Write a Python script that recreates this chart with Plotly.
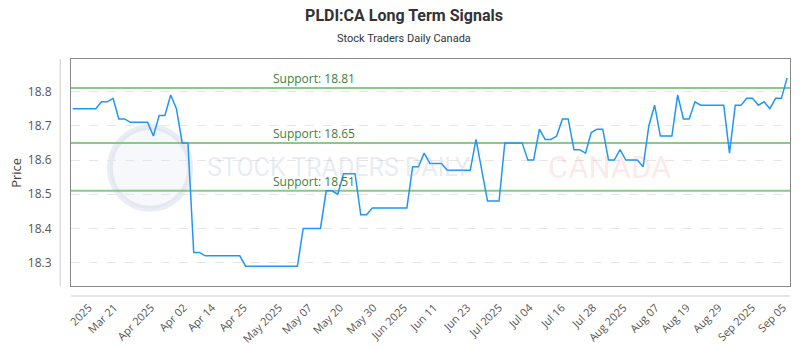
import plotly.graph_objects as go

# ---- data ----
prices = [
    18.75, 18.75, 18.75, 18.75, 18.75, 18.77, 18.77, 18.78, 18.72, 18.72,
    18.71, 18.71, 18.71, 18.71, 18.67, 18.73, 18.73, 18.79, 18.75, 18.65,
    18.65, 18.33, 18.33, 18.32, 18.32, 18.32, 18.32, 18.32, 18.32, 18.32,
    18.29, 18.29, 18.29, 18.29, 18.29, 18.29, 18.29, 18.29, 18.29, 18.29,
    18.40, 18.40, 18.40, 18.40, 18.51, 18.51, 18.50, 18.56, 18.56, 18.56,
    18.44, 18.44, 18.46, 18.46, 18.46, 18.46, 18.46, 18.46, 18.46, 18.58,
    18.58, 18.62, 18.59, 18.59, 18.59, 18.57, 18.57, 18.57, 18.57, 18.57,
    18.66, 18.57, 18.48, 18.48, 18.48, 18.65, 18.65, 18.65, 18.65, 18.60,
    18.60, 18.69, 18.66, 18.66, 18.67, 18.72, 18.72, 18.63, 18.63, 18.62,
    18.68, 18.69, 18.69, 18.60, 18.60, 18.63, 18.60, 18.60, 18.60, 18.58,
    18.70, 18.76, 18.67, 18.67, 18.67, 18.79, 18.72, 18.72, 18.77, 18.76,
    18.76, 18.76, 18.76, 18.76, 18.62, 18.76, 18.76, 18.78, 18.78, 18.76,
    18.77, 18.75, 18.78, 18.78, 18.84,
]
tick_labels = [
    "2025", "Mar 21", "Apr 2025", "Apr 02", "Apr 14", "Apr 25", "May 2025",
    "May 07", "May 20", "May 30", "Jun 2025", "Jun 11", "Jun 23", "Jul 2025",
    "Jul 04", "Jul 16", "Jul 28", "Aug 2025", "Aug 07", "Aug 19", "Aug 29",
    "Sep 2025", "Sep 05",
]
tick_index = [
    2.8, 7.2, 13.6, 19.3, 24.2, 29.7, 35.8, 41.0, 46.4, 52.2, 57.5, 62.7,
    68.5, 74.0, 79.3, 84.9, 90.3, 95.6, 101.2, 106.6, 112.1, 117.9, 123.3,
]
support_levels = [18.81, 18.65, 18.51]
support_labels = ["Support: 18.81", "Support: 18.65", "Support: 18.51"]

x = list(range(len(prices)))

fig = go.Figure()

# support lines
for lvl in support_levels:
    fig.add_trace(go.Scatter(
        x=[-0.3, len(prices) - 0.5], y=[lvl, lvl], mode="lines",
        line=dict(color="rgba(120,190,120,0.85)", width=2),
        hoverinfo="skip", showlegend=False,
    ))

fig.add_trace(go.Scatter(
    x=x, y=prices, mode="lines",
    line=dict(color="#2196f3", width=1.5),
    showlegend=False,
))

annotations = []
for lvl, lab in zip(support_levels, support_labels):
    annotations.append(dict(
        x=34.5, y=lvl, text=lab, showarrow=False, xanchor="left",
        yanchor="bottom", yshift=-1,
        font=dict(family="Open Sans, Roboto, sans-serif", size=12, color="#3d7f3d"),
    ))

# watermark
annotations.append(dict(
    xref="paper", yref="paper", x=0.187, y=0.52, text="STOCK TRADERS DAILY",
    showarrow=False, xanchor="left", yanchor="middle",
    font=dict(family="Roboto, sans-serif", size=25,
              color="rgba(170,185,210,0.28)"),
))
annotations.append(dict(
    xref="paper", yref="paper", x=0.66, y=0.52, text="CANADA",
    showarrow=False, xanchor="left", yanchor="middle",
    font=dict(family="Roboto, sans-serif", size=31,
              color="rgba(240,120,120,0.18)"),
))
annotations.append(dict(
    xref="paper", yref="paper", x=0.4634, y=1.0, yshift=21,
    text="Stock Traders Daily Canada", showarrow=False,
    xanchor="center", yanchor="middle",
    font=dict(family="Roboto, sans-serif", size=11, color="#333333"),
))
# y-axis title
annotations.append(dict(
    xref="paper", yref="paper", x=-0.0774, y=0.5, text="Price",
    showarrow=False, textangle=-90, xanchor="center", yanchor="middle",
    font=dict(family="Open Sans, sans-serif", size=13, color="#444444"),
))

fig.add_shape(
    type="circle", xref="paper", yref="paper",
    x0=0.054, x1=0.166, y0=0.34, y1=0.70,
    line=dict(color="rgba(170,185,210,0.25)", width=6),
    fillcolor="rgba(200,210,230,0.15)", layer="below",
)

# decorative outer axis lines
fig.add_shape(type="line", xref="paper", yref="paper", x0=-0.015, x1=-0.015,
              y0=0.0, y1=1.0, line=dict(color="#cccccc", width=1))
fig.add_shape(type="line", xref="paper", yref="paper", x0=0.0, x1=1.0,
              y0=-0.044, y1=-0.044, line=dict(color="#cccccc", width=1))

fig.update_layout(
    width=800, height=350,
    margin=dict(l=71, r=10, t=59, b=64, autoexpand=False),
    paper_bgcolor="white", plot_bgcolor="white",
    title=dict(
        text="<b>PLDI:CA Long Term Signals</b>",
        x=0.505, xanchor="center", y=0.955, yanchor="middle",
        font=dict(family="Roboto, sans-serif", size=16, color="#333333"),
    ),
    annotations=annotations,
)

fig.update_xaxes(
    range=[-0.3, len(prices) - 0.5], automargin=False,
    tickmode="array", tickvals=tick_index, ticktext=tick_labels,
    tickangle=-45, showgrid=False, zeroline=False,
    showline=True, mirror=True, linecolor="#888888", linewidth=1,
    tickfont=dict(family="Open Sans, sans-serif", size=11, color="#555555"),
    ticks="", ticklabelstandoff=10,
)
fig.update_yaxes(
    range=[18.232, 18.895], dtick=0.1, tick0=18.3, tickformat=".1f",
    automargin=False,
    showgrid=True, gridcolor="#e6e6e6", griddash="dash", zeroline=False,
    showline=True, mirror=True, linecolor="#888888", linewidth=1,
    tickfont=dict(family="Open Sans, sans-serif", size=12, color="#555555"),
    ticks="", ticklabelstandoff=16,
)

fig.write_html("out.html")
